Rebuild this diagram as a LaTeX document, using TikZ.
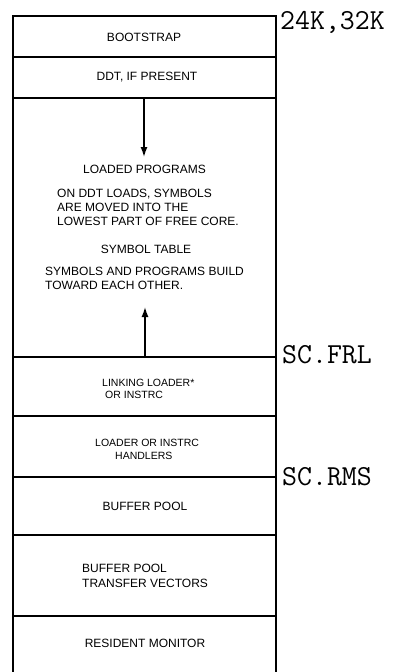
\documentclass[tikz,border=0pt]{standalone}
\usepackage{fontspec}
\setmainfont{Liberation Sans}
\usetikzlibrary{arrows.meta}
\begin{document}
\begin{tikzpicture}[x=1pt,y=-1pt,
  wall/.style={line width=1.8pt},
  divider/.style={line width=1.6pt},
  lbl/.style={inner sep=0pt, anchor=base, font=\fontsize{12}{14.5}\selectfont},
  lblw/.style={lbl, anchor=base west},
  small/.style={inner sep=0pt, anchor=base west, font=\fontsize{10.5}{12}\selectfont},
  addr/.style={inner sep=0pt, anchor=base west, font=\ttfamily\fontsize{29}{29}\selectfont},
  growarrow/.style={line width=1.4pt, -{Latex[length=10pt,width=7pt]}}]
\useasboundingbox (0,0) rectangle (399,672);
% outline of memory map (open at bottom)
\coordinate (tl) at (13,16);
\coordinate (tr) at (276,16);
\coordinate (bl) at (13,672);
\coordinate (br) at (276,672);
\draw[wall] (bl) -- (tl) -- (tr) -- (br);
% dividers
\foreach \n/\y in {da/57, db/98, dc/357, dd/416, de/477, df/535, dg/616} {
  \coordinate (\n l) at (13,\y);
  \coordinate (\n r) at (276,\y);
  \draw[divider] (\n l) -- (\n r);
}
% texts
\node[lbl] (boot) at (144,41.3) {BOOTSTRAP};
\node[lbl] (ddt) at (147,80.3) {DDT, IF PRESENT};
\node[lbl] (lp) at (144.5,173.3) {LOADED PROGRAMS};
\node[lblw] (on1) at (57,197.3) {ON DDT LOADS, SYMBOLS};
\node[lblw] (on2) at (57,211.3) {ARE MOVED INTO THE};
\node[lblw] (on3) at (57,225.3) {LOWEST PART OF FREE CORE.};
\node[lbl] (st) at (146,253.3) {SYMBOL TABLE};
\node[lblw] (sp1) at (45,275.3) {SYMBOLS AND PROGRAMS BUILD};
\node[lblw] (sp2) at (45,289.3) {TOWARD EACH OTHER.};
\node[small] (ll1) at (102,386.8) {LINKING LOADER*};
\node[small] (ll2) at (105,398.8) {OR INSTRC};
\node[small] (lh1) at (95,446.8) {LOADER OR INSTRC};
\node[small] (lh2) at (115,459.8) {HANDLERS};
\node[lbl] (bp) at (145,510.3) {BUFFER POOL};
\node[lblw] (tv1) at (82,572.3) {BUFFER POOL};
\node[lblw] (tv2) at (82,587.3) {TRANSFER VECTORS};
\node[lbl] (rm) at (145,647.3) {RESIDENT MONITOR};
% address labels
\node[addr] (k24) at (280,29) {24K,32K};
\node[addr] (frl) at (282,363) {SC.FRL};
\node[addr] (rms) at (282,485) {SC.RMS};
% growth arrows
\coordinate (dstart) at (144,98);
\coordinate (dtip) at (144,157);
\coordinate (ustart) at (145,357);
\coordinate (utip) at (145,307);
\draw[growarrow] (dstart) -- (dtip);
\draw[growarrow] (ustart) -- (utip);
\end{tikzpicture}
\end{document}
